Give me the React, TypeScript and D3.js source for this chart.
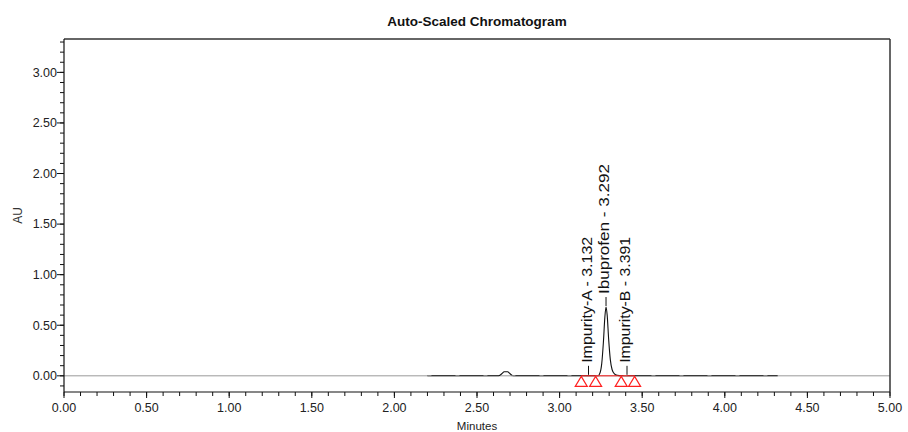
import * as d3 from "d3";
import React from "react";

const title = "Auto-Scaled Chromatogram";
const xTitle = "Minutes";
const yTitle = "AU";

const xTicks = [0, 0.5, 1, 1.5, 2, 2.5, 3, 3.5, 4, 4.5, 5];
const yTicks = [0, 0.5, 1, 1.5, 2, 2.5, 3];

// detector trace (minutes / AU)
const traceTime = [2.2, 2.63, 2.65, 2.665, 2.685, 2.7, 2.72, 3.232, 3.245, 3.255, 3.265, 3.274, 3.281, 3.288, 3.297, 3.307, 3.318, 3.332, 3.35, 3.37, 4.32];
const traceAU = [0, 0, 0.02, 0.04, 0.04, 0.02, 0, 0, 0.03, 0.12, 0.33, 0.58, 0.68, 0.6, 0.36, 0.16, 0.06, 0.02, 0.005, 0, 0];

// peak labels
const peakNames = ["Impurity-A - 3.132", "Ibuprofen - 3.292", "Impurity-B - 3.391"];
const peakTime = [3.175, 3.281, 3.408];
const peakAU = [0, 0.68, 0];
const peakTextLen = [126, 130, 126];

// integration start/end markers
const markTime = [3.131, 3.218, 3.373, 3.454];

const W = 908;
const H = 432;
const margin = { top: 39, right: 18, bottom: 40, left: 64 };

export default function App() {
  const x = d3.scaleLinear().domain([0, 5]).range([margin.left, W - margin.right]);
  const y = d3.scaleLinear().domain([-0.16, 3.33]).range([H - margin.bottom, margin.top]);
  const fmt = d3.format(".2f");

  const pts = traceTime.map((t, i) => [t, traceAU[i]] as [number, number]);
  const line = d3.line<[number, number]>()
    .x((d) => x(d[0]))
    .y((d) => y(d[1]))
    .curve(d3.curveMonotoneX);

  const xMinor = d3.range(0, 51).map((i) => i / 10);
  const yMinor = d3.range(-1, 34).map((i) => i / 10);

  const x0 = x(0), x1 = x(5);
  const yb = H - margin.bottom;
  const yt = margin.top;
  const font = "'Liberation Sans', Arial, sans-serif";

  return (
    <svg width={W} height={H} style={{ position: "absolute", left: 0, top: 0, background: "#fff" }} fontFamily={font}>
      <text x={(x0 + x1) / 2} y={26} textAnchor="middle" fontSize={13.5} fontWeight="bold" fill="#111">{title}</text>

      {/* zero line */}
      <line x1={x0} x2={x1} y1={y(0)} y2={y(0)} stroke="#999" strokeWidth={1} />
      <path d={line(pts) || ""} fill="none" stroke="#111" strokeWidth={1.1} />
      <line x1={x(traceTime[0])} x2={x(traceTime[traceTime.length - 1])} y1={y(0)} y2={y(0)}
        stroke="#aaa" strokeWidth={1} strokeDasharray="4 24" />

      {/* integration baseline + markers */}
      <line x1={x(markTime[0])} x2={x(markTime[markTime.length - 1])} y1={y(0)} y2={y(0)} stroke="#ff2020" strokeWidth={1} />
      {markTime.map((t, i) => {
        const cx = x(t), cy = y(0) + 0.5;
        const p = d3.path();
        p.moveTo(cx, cy);
        p.lineTo(cx + 6, cy + 10);
        p.lineTo(cx - 6, cy + 10);
        p.closePath();
        return <path key={i} d={p.toString()} fill="none" stroke="#ff2020" strokeWidth={1.2} />;
      })}

      {/* peak labels */}
      {peakNames.map((n, i) => {
        const px = x(peakTime[i]);
        const py = y(peakAU[i]) - 1;
        return (
          <g key={n}>
            <line x1={px} x2={px} y1={py} y2={py - 9} stroke="#111" strokeWidth={1} />
            <text transform={`translate(${px + 3},${py - 12}) rotate(-90)`} fontSize={14.5} fill="#111"
              textLength={peakTextLen[i]} lengthAdjust="spacingAndGlyphs">{n}</text>
          </g>
        );
      })}

      {/* frame */}
      <line x1={x0} x2={x1} y1={yt} y2={yt} stroke="#333" strokeWidth={1.5} />
      <line x1={x1} x2={x1} y1={yt} y2={yb} stroke="#333" strokeWidth={1.5} />
      <line x1={x0} x2={x0} y1={yt} y2={yb} stroke="#111" strokeWidth={1.2} />
      <line x1={x0} x2={x1} y1={yb} y2={yb} stroke="#111" strokeWidth={1.2} />

      {/* x axis */}
      {xMinor.map((t) => (
        <line key={"xm" + t} x1={x(t)} x2={x(t)} y1={yb} y2={yb + 4} stroke="#111" />
      ))}
      {xTicks.map((t) => (
        <g key={"x" + t}>
          <line x1={x(t)} x2={x(t)} y1={yb} y2={yb + 6} stroke="#111" />
          <text x={x(t)} y={412} textAnchor="middle" fontSize={12.5} fill="#222">{fmt(t)}</text>
        </g>
      ))}
      <text x={(x0 + x1) / 2} y={430} textAnchor="middle" fontSize={11.5} fill="#222">{xTitle}</text>

      {/* y axis */}
      {yMinor.map((v) => (
        <line key={"ym" + v} x1={x0 - 4} x2={x0} y1={y(v)} y2={y(v)} stroke="#111" />
      ))}
      {yTicks.map((v) => (
        <g key={"y" + v}>
          <line x1={x0 - 7} x2={x0} y1={y(v)} y2={y(v)} stroke="#111" />
          <text x={x0 - 7} y={y(v)} dy="0.35em" textAnchor="end" fontSize={12.5} fill="#222">{fmt(v)}</text>
        </g>
      ))}
      <text transform={`translate(22,${(yt + yb) / 2}) rotate(-90)`} textAnchor="middle" fontSize={12} fill="#333">{yTitle}</text>
    </svg>
  );
}
